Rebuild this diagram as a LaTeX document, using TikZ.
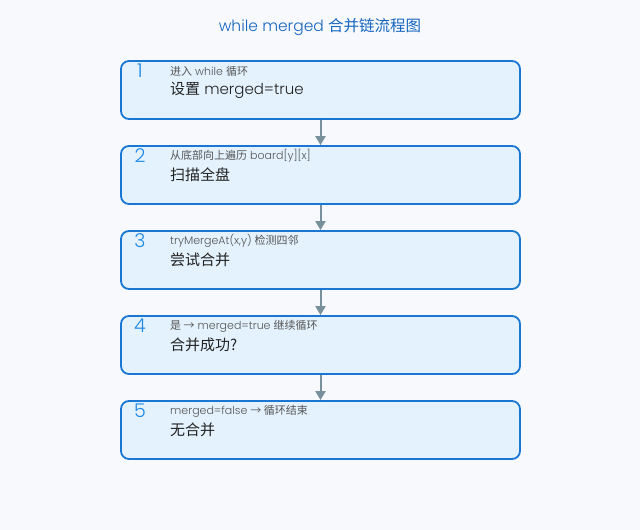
\documentclass[tikz,border=0pt]{standalone}
\usepackage{fontspec}
\setmainfont{Poppins}[UprightFont=* Light]
\newfontfamily\cjk{Noto Sans CJK SC}
\usetikzlibrary{arrows.meta}
\definecolor{bgc}{HTML}{F7F9FC}
\definecolor{boxfill}{HTML}{E3F2FD}
\definecolor{boxline}{HTML}{1976D2}
\definecolor{numc}{HTML}{1E88E5}
\definecolor{titlec}{HTML}{1565C0}
\definecolor{arrowc}{HTML}{78909C}
\definecolor{subc}{HTML}{555555}
\definecolor{mainc}{HTML}{222222}
\tikzset{
  stepbox/.style={draw=boxline, fill=boxfill, line width=1.8pt, rounded corners=8pt,
    minimum width=399pt, minimum height=58pt, inner sep=0pt},
  numtxt/.style={text=numc, font=\fontsize{19}{19}\selectfont, anchor=center, inner sep=0pt},
  subtxt/.style={text=subc, font=\fontsize{11}{11}\selectfont, anchor=west, inner sep=0pt},
  maintxt/.style={text=mainc, font=\fontsize{15}{15}\selectfont, anchor=west, inner sep=0pt},
  flow/.style={draw=arrowc, line width=2pt, -{Triangle[width=10pt,length=9pt]}}
}
\begin{document}
\begin{tikzpicture}[x=1pt,y=-1pt]
\fill[bgc] (0,0) rectangle (640,530);
\useasboundingbox (0,0) rectangle (640,530);
\node[text=titlec, font=\fontsize{15.5}{15.5}\selectfont, inner sep=0pt] (title) at (320,27) {while merged {\cjk 合并链流程图}};

\node[stepbox] (b1) at (320.5,90) {};
\node[stepbox] (b2) at (320.5,175) {};
\node[stepbox] (b3) at (320.5,260) {};
\node[stepbox] (b4) at (320.5,345) {};
\node[stepbox] (b5) at (320.5,430) {};

\node[numtxt] (n1) at (140,71) {1};
\node[numtxt] (n2) at (140,156) {2};
\node[numtxt] (n3) at (140,241) {3};
\node[numtxt] (n4) at (140,326) {4};
\node[numtxt] (n5) at (140,411) {5};

\node[subtxt] (s1) at (170,71) {{\cjk 进入} while {\cjk 循环}};
\node[subtxt] (s2) at (170,156) {{\cjk 从底部向上遍历} board[y][x]};
\node[subtxt] (s3) at (170,241) {tryMergeAt(x,y) {\cjk 检测四邻}};
\node[subtxt] (s4) at (170,326) {{\cjk 是 →} merged=true {\cjk 继续循环}};
\node[subtxt] (s5) at (170,411) {merged=false {\cjk → 循环结束}};

\node[maintxt] (m1) at (170,90) {{\cjk 设置} merged=true};
\node[maintxt] (m2) at (170,175) {{\cjk 扫描全盘}};
\node[maintxt] (m3) at (170,260) {{\cjk 尝试合并}};
\node[maintxt] (m4) at (170,345) {{\cjk 合并成功?}};
\node[maintxt] (m5) at (170,430) {{\cjk 无合并}};

\draw[flow] (b1.south) -- (b2.north);
\draw[flow] (b2.south) -- (b3.north);
\draw[flow] (b3.south) -- (b4.north);
\draw[flow] (b4.south) -- (b5.north);
\end{tikzpicture}
\end{document}
